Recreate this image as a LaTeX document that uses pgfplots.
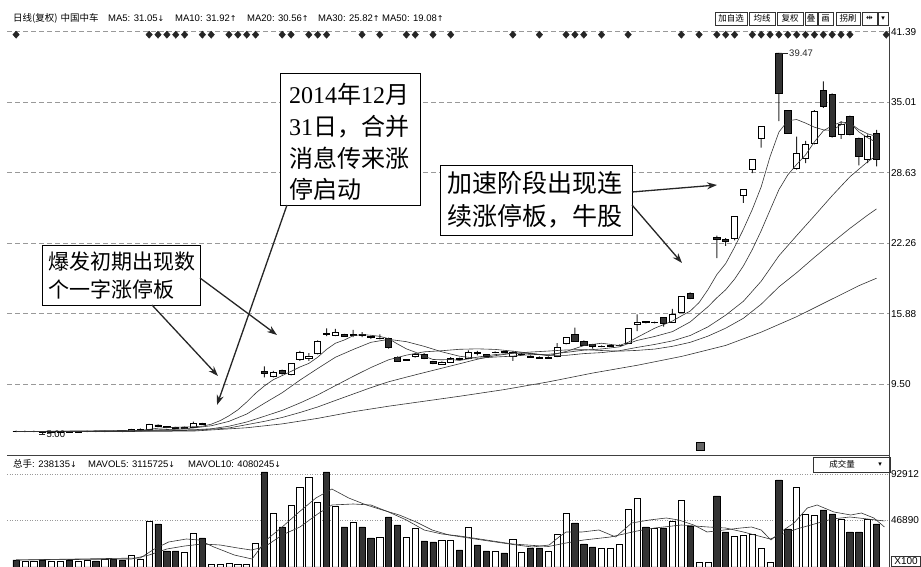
\documentclass[border=0pt]{standalone}
\usepackage{pgfplots}
\pgfplotsset{compat=1.18}
\usepackage{pgfplotstable}
\usepackage{fontspec}
\setmainfont{Liberation Serif}
\newfontfamily\cjk{Noto Sans CJK SC}
\newfontfamily\sans{Liberation Sans}
\newfontfamily\dejavu{DejaVu Sans}
\usetikzlibrary{arrows.meta}

\pgfplotstableread{
i O H L C V
0 5.25 5.30 5.15 5.20 7
1 5.18 5.28 5.15 5.24 6
2 5.20 5.30 5.15 5.25 6
3 5.22 5.25 5.00 5.10 7
4 5.10 5.20 5.05 5.18 6
5 5.15 5.25 5.10 5.22 6
6 5.22 5.25 5.12 5.15 7
7 5.15 5.25 5.12 5.22 6
8 5.20 5.28 5.15 5.25 7
9 5.25 5.28 5.15 5.18 6
10 5.18 5.30 5.15 5.25 8
11 5.25 5.30 5.18 5.20 8
12 5.22 5.25 5.15 5.18 7
13 5.20 5.45 5.18 5.40 12
14 5.38 5.50 5.32 5.45 8
15 5.45 5.90 5.42 5.85 46
16 5.80 5.85 5.60 5.65 43
17 5.65 5.70 5.52 5.55 16
18 5.58 5.62 5.45 5.50 16
19 5.50 5.65 5.48 5.60 15
20 5.60 6.10 5.55 5.92 34
21 5.95 6.00 5.80 5.87 29
22 6.46 6.46 6.46 6.46 3
23 7.10 7.10 7.10 7.10 3
24 7.81 7.81 7.81 7.81 4
25 8.59 8.59 8.59 8.59 3
26 9.45 9.45 9.45 9.45 3
27 10.40 10.40 10.40 10.40 24
28 10.65 11.10 10.10 10.45 95
29 10.20 10.70 10.10 10.60 54
30 10.75 10.80 10.35 10.45 40
31 10.35 11.40 10.30 11.35 62
32 11.70 12.50 11.60 12.40 80
33 11.85 12.30 11.60 12.05 90
34 12.25 13.45 12.20 13.40 65
35 14.10 14.55 13.85 14.00 95
36 13.95 14.50 13.85 14.15 61
37 14.00 14.05 13.80 13.85 40
38 13.95 14.40 13.75 14.00 45
39 14.00 14.20 13.75 13.90 40
40 13.80 13.85 13.60 13.70 29
41 13.60 14.00 13.55 13.65 30
42 13.60 13.70 12.70 12.80 50
43 11.90 12.00 11.50 11.60 42
44 11.65 11.75 11.60 11.70 30
45 12.00 12.30 11.90 12.20 39
46 12.20 12.30 11.75 11.80 26
47 11.55 11.60 11.30 11.35 25
48 11.30 11.55 11.25 11.45 27
49 11.50 11.95 11.45 11.85 27
50 11.85 11.90 11.70 11.75 17
51 11.80 12.55 11.75 12.40 40
52 12.35 12.50 12.10 12.25 22
53 12.15 12.20 12.00 12.05 16
54 12.35 12.45 12.30 12.40 16
55 12.45 12.50 12.35 12.40 14
56 12.00 12.50 11.60 12.40 28
57 12.15 12.30 12.10 12.20 15
58 12.05 12.10 11.90 11.95 19
59 11.95 12.00 11.80 11.85 19
60 11.85 12.00 11.80 11.95 16
61 12.00 13.20 11.95 12.80 33
62 13.20 13.75 13.10 13.70 54
63 14.00 14.60 13.35 13.40 44
64 13.40 13.45 13.00 13.05 23
65 13.10 13.15 12.70 12.90 20
66 12.90 13.00 12.85 12.95 19
67 12.95 13.05 12.90 13.00 19
68 13.00 13.10 12.95 13.05 23
69 13.20 14.55 13.15 14.50 58
70 14.90 15.80 14.30 15.10 69
71 15.15 15.20 15.00 15.05 40
72 15.05 15.15 15.00 15.10 39
73 15.50 15.55 14.70 15.00 39
74 15.10 16.30 15.05 15.80 46
75 16.00 17.45 15.95 17.40 67
76 17.70 17.80 17.20 17.25 41
77 18.95 18.95 18.95 18.95 5
78 20.85 20.85 20.85 20.85 5
79 22.80 22.93 20.90 22.60 71
80 22.60 22.70 22.00 22.40 35
81 22.65 24.65 22.50 24.65 31
82 26.60 27.10 25.90 27.10 32
83 28.90 29.80 28.60 29.80 33
84 31.70 32.80 30.90 32.80 19
85 36.05 36.05 36.05 36.05 5
86 39.47 39.47 33.30 35.80 87
87 34.30 34.30 32.20 32.20 38
88 29.00 31.90 28.90 30.35 80
89 29.90 31.50 29.50 31.20 53
90 31.25 34.30 31.20 34.20 52
91 36.10 36.90 34.50 34.60 57
92 35.70 35.80 31.80 31.90 53
93 32.07 33.30 31.70 32.97 48
94 33.70 33.80 32.00 32.07 35
95 31.70 31.80 29.30 30.10 35
96 29.80 32.10 29.50 31.90 48
97 32.20 32.50 29.20 29.80 43
}\kdata

\newcommand\tfont{\sans\fontsize{10}{10}\selectfont}
\newcommand\hfont{\sans\fontsize{9.5}{10}\selectfont}
\newcommand\up{{\dejavu\fontsize{8}{10}\selectfont ↑}}
\newcommand\dn{{\dejavu\fontsize{8}{10}\selectfont ↓}}

\begin{document}
\begin{tikzpicture}[x=1pt,y=1pt]
\path[use as bounding box] (0,0) rectangle (921,567);
\pgfplotsset{
  panel/.style={scale only axis, width=881.7pt, xmin=-1, xmax=98.4, anchor=south west},
  price/.style={panel, height=429pt, ymin=3.02, ymax=41.84, at={(8.13,100.7)}},
  maline/.style={black!80, line width=0.6pt, mark=none},
}
% grid, axis lines, wicks
\begin{axis}[price, ybar stacked, bar width=1pt,
  axis x line*=bottom, axis y line*=right, xtick=\empty,
  ytick={9.50,15.88,22.26,28.63,35.01,41.39},
  yticklabels={9.50,15.88,22.26,28.63,35.01,41.39},
  yticklabel style={font=\tfont, inner sep=1pt, xshift=1pt},
  major tick length=0pt,
  ymajorgrids, grid style={black!40, dash pattern=on 5pt off 3pt, line width=0.5pt},
  axis line style={black!75, line width=0.7pt}]
\addplot[draw=none, fill=none] table[x=i, y=L] {\kdata};
\addplot[draw=none, fill=black!85] table[x=i, y expr={\thisrow{H}-\thisrow{L}}] {\kdata};
\end{axis}
% bodies
\begin{axis}[price, hide axis, ybar stacked, bar width=6.2pt]
\addplot[draw=none, fill=none] table[x=i, y expr={min(\thisrow{O},\thisrow{C})}] {\kdata};
\addplot[draw=black, fill=white, line width=0.7pt] table[x=i, y expr={max(\thisrow{C}-\thisrow{O},0)}] {\kdata};
\addplot[draw=black, fill=black!80, line width=0.7pt] table[x=i, y expr={max(\thisrow{O}-\thisrow{C},0)}] {\kdata};
\end{axis}
% moving averages, markers, labels
\begin{axis}[price, hide axis]
\addplot[maline] coordinates {(0,5.2) (4,5.19) (8,5.2) (12,5.21) (14,5.3) (16,5.51) (18,5.6) (20,5.64) (21,5.69) (22,5.87) (23,6.19) (24,6.63) (25,7.17) (26,7.88) (27,8.67) (28,9.34) (29,9.9) (30,10.27) (31,10.65) (32,11.05) (33,11.37) (34,11.93) (35,12.64) (36,13.2) (37,13.49) (38,13.88) (39,13.98) (40,13.92) (41,13.82) (42,13.61) (43,13.13) (44,12.69) (45,12.39) (46,12.02) (47,11.73) (48,11.7) (49,11.73) (50,11.64) (52,11.94) (54,12.17) (56,12.3) (58,12.27) (60,12.07) (62,12.45) (64,12.98) (66,13.2) (68,12.99) (69,13.28) (70,13.72) (72,14.56) (74,15.21) (75,15.67) (76,16.11) (77,16.88) (78,18.05) (79,19.41) (80,20.41) (81,21.89) (82,23.52) (83,25.31) (84,27.35) (85,30.08) (86,32.31) (87,33.33) (88,33.44) (89,33.12) (90,32.75) (91,32.51) (92,32.45) (93,32.97) (94,33.15) (95,32.33) (96,31.79) (97,31.37)};
\addplot[maline] coordinates {(0,5.2) (10,5.2) (14,5.25) (16,5.36) (18,5.42) (20,5.53) (22,5.73) (24,6.13) (26,6.79) (28,7.77) (30,8.72) (32,9.86) (34,10.91) (36,11.93) (38,12.63) (40,13.28) (42,13.55) (44,13.34) (46,12.92) (48,12.42) (50,12.02) (52,11.84) (54,11.95) (56,12.03) (58,12.17) (60,12.19) (62,12.37) (64,12.57) (66,12.68) (68,12.87) (70,13.45) (72,13.81) (74,14.25) (76,15.13) (78,16.5) (79,17.31) (80,18.04) (81,19.0) (82,20.2) (83,21.68) (84,23.38) (85,25.25) (86,27.1) (87,28.43) (88,29.38) (89,30.24) (90,31.42) (91,32.41) (92,32.89) (93,33.21) (94,33.13) (95,32.54) (96,32.15) (97,31.91)};
\addplot[maline] coordinates {(0,5.2) (20,5.37) (22,5.46) (24,5.69) (26,6.07) (28,6.59) (30,7.12) (32,7.79) (34,8.52) (36,9.36) (38,10.2) (40,11.0) (42,11.7) (44,12.12) (46,12.42) (48,12.52) (50,12.65) (52,12.69) (54,12.64) (56,12.48) (58,12.29) (60,12.1) (62,12.1) (64,12.26) (66,12.35) (68,12.52) (70,12.82) (72,13.09) (74,13.41) (76,13.9) (78,14.68) (80,15.74) (82,17.0) (84,18.81) (86,21.11) (88,22.94) (90,24.73) (92,26.55) (94,28.26) (96,29.62) (97,30.17)};
\addplot[maline] coordinates {(0,5.2) (20,5.31) (24,5.53) (28,6.13) (30,6.48) (32,6.93) (34,7.43) (36,8.02) (38,8.6) (40,9.18) (42,9.71) (44,10.13) (46,10.54) (48,10.94) (50,11.34) (52,11.75) (54,12.07) (56,12.29) (58,12.4) (60,12.49) (62,12.59) (64,12.62) (66,12.54) (68,12.48) (70,12.55) (72,12.67) (74,12.92) (76,13.28) (78,13.84) (80,14.56) (82,15.46) (84,16.73) (86,18.3) (88,19.58) (90,20.97) (92,22.3) (94,23.59) (96,24.79) (97,25.35)};
\addplot[maline] coordinates {(0,5.2) (10,5.2) (20,5.25) (26,5.55) (30,5.9) (34,6.4) (38,7.0) (42,7.5) (46,7.95) (50,8.4) (55,9.0) (60,9.7) (65,10.5) (70,11.2) (75,12.0) (80,13.0) (84,14.2) (88,15.6) (92,17.2) (95,18.4) (97,19.08)};
\addplot[only marks, mark=diamond*, mark size=3.6pt, mark options={xscale=1.2, fill=black!85, draw=black!85}] coordinates {(0,41.12) (15,41.12) (16,41.12) (17,41.12) (18,41.12) (19,41.12) (21,41.12) (22,41.12) (24,41.12) (25,41.12) (26,41.12) (27,41.12) (30,41.12) (31,41.12) (33,41.12) (34,41.12) (35,41.12) (39,41.12) (41,41.12) (44,41.12) (45,41.12) (47,41.12) (49,41.12) (56,41.12) (59,41.12) (62,41.12) (63,41.12) (64,41.12) (66,41.12) (69,41.12) (75,41.12) (77,41.12) (79,41.12) (80,41.12) (81,41.12) (83,41.12) (84,41.12) (85,41.12) (86,41.12) (87,41.12) (88,41.12) (89,41.12) (90,41.12) (91,41.12) (92,41.12) (93,41.12) (94,41.12) (98.1,41.12)};
\draw[black!85, line width=0.6pt] (axis cs:86,39.47) -- ++(9pt,0pt) node[anchor=west, inner sep=1pt, font=\hfont] {39.47};
\draw[black!85, line width=0.6pt] (axis cs:3.3,5.0) -- ++(-6pt,0pt);
\node[anchor=west, inner sep=1pt, font=\hfont] at (axis cs:3.3,5.0) {5.00};
\end{axis}
% volume panel
\begin{axis}[panel, height=113pt, ymin=0, ymax=113, at={(8.13,0)},
  ybar, bar width=6.2pt, bar shift=0pt,
  axis x line=none, axis y line*=right, xtick=\empty,
  ytick={46.89,92.912}, yticklabels={46890,92912},
  yticklabel style={font=\tfont, inner sep=1pt, xshift=1pt},
  major tick length=0pt,
  ymajorgrids, grid style={black!40, dash pattern=on 1pt off 1.5pt, line width=0.5pt},
  axis line style={black!75, line width=0.7pt}]
\addplot[draw=black, fill=white, line width=0.7pt] table[x=i, y expr={(1-(\thisrow{O}>\thisrow{C}))*\thisrow{V}}] {\kdata};
\addplot[draw=black, fill=black!80, line width=0.7pt] table[x=i, y expr={(\thisrow{O}>\thisrow{C})*\thisrow{V}}] {\kdata};
\addplot[sharp plot, maline] coordinates {(0,7) (14,9) (15.6,18) (17.2,25) (19.2,28) (20.6,27) (22.3,20) (24.6,12) (26.6,8) (28.2,27) (30,40) (31.9,55) (33.8,69) (35.6,78) (37.5,69) (39.5,62) (41.3,57) (43.2,52) (45.1,45) (46.9,37) (48.8,32) (52.5,27) (56.4,22) (58.2,20) (60.1,22) (61.2,30) (62,35) (63.8,35) (65.7,37) (67.6,30) (69.4,44) (71.4,47) (73.3,49) (74.7,47) (76.4,42) (77.9,35) (79.8,37) (81.7,39) (82.9,40) (84,37) (85.1,27) (86.2,35) (87.7,44) (89.2,59) (90.3,62) (92.2,55) (94.1,52) (95.3,54) (96.7,49) (97.9,40)};
\addplot[sharp plot, maline] coordinates {(0,7) (13,8) (15,12) (17,18) (19,21) (21,23) (23,22) (25,19) (26.5,17) (28,20) (30,32) (32,40) (34,53) (35.6,62) (38,63) (40,62) (42,55) (44,47) (46,37) (48,33) (50,31) (53,27) (56,23) (60,20.5) (62,24) (64,27) (67,30) (70,36) (72,39) (75,42) (78,40) (80,39) (82,35) (85,28) (86.5,33) (88,38) (90,43) (92,48) (94,50) (96,48) (97.9,46)};
\end{axis}
% header texts
\node[anchor=base west, inner sep=0] at (13,545) {\cjk\fontsize{9.5}{10}\selectfont 日线(复权)\hspace{3pt}中国中车};
\node[anchor=base west, inner sep=0] at (108,545) {\hfont MA5: 31.05\dn};
\node[anchor=base west, inner sep=0] at (175,545) {\hfont MA10: 31.92\up};
\node[anchor=base west, inner sep=0] at (247,545) {\hfont MA20: 30.56\up};
\node[anchor=base west, inner sep=0] at (318,545) {\hfont MA30: 25.82\up};
\node[anchor=base west, inner sep=0] at (382,545) {\hfont MA50: 19.08\up};
\node[anchor=base west, inner sep=0] at (13,99) {{\cjk\fontsize{9.5}{10}\selectfont 总手}\hfont: 238135\dn};
\node[anchor=base west, inner sep=0] at (88,99) {\hfont MAVOL5: 3115725\dn};
\node[anchor=base west, inner sep=0] at (188,99) {\hfont MAVOL10: 4080245\dn};
% toolbar
\begin{scope}[line width=0.6pt, black!80]
\foreach \a/\b/\t in {715/747/加自选, 749/775/均线, 777/803/复权, 805/817/叠, 818/833/画, 836/860/拐刷}{
  \draw (\a,555) rectangle (\b,542);
  \node[font=\cjk\fontsize{8.5}{9}\selectfont, inner sep=0, text=black] at ({(\a+\b)/2},548.5) {\t};
}
\draw (862,555) rectangle (877,542); \node[font=\dejavu\fontsize{8}{9}\selectfont, inner sep=0, text=black] at (869.5,548.5) {⇹};
\draw (878,555) rectangle (888,542); \node[font=\dejavu\fontsize{7}{9}\selectfont, inner sep=0, text=black] at (883,548.5) {▾};
\draw (813,110) rectangle (890,95);
\node[font=\cjk\fontsize{8.5}{9}\selectfont, inner sep=0, text=black] at (842,102.5) {成交量};
\node[font=\dejavu\fontsize{7}{9}\selectfont, inner sep=0, text=black] at (880,102.5) {▾};
\draw (891,0.5) rectangle (920.5,11);
\node[font=\tfont, inner sep=0, text=black] at (906,5.5) {X100};
\filldraw[fill=black!60, draw=black] (696,117) rectangle (704,125);
\end{scope}
% annotation boxes
\begin{scope}[line width=0.9pt]
\draw[fill=white] (280,494) rectangle (420,362);
\draw[fill=white] (42,322) rectangle (200,262);
\draw[fill=white] (440,402) rectangle (632,332);
\end{scope}
\newcommand\ann{\fontsize{24}{28}\selectfont}
\node[anchor=base west, inner sep=0] at (289,463) {\ann 2014{\cjk 年}12{\cjk 月}};
\node[anchor=base west, inner sep=0] at (289,431) {\ann 31{\cjk 日，合并}};
\node[anchor=base west, inner sep=0] at (289,399) {\ann\cjk 消息传来涨};
\node[anchor=base west, inner sep=0] at (289,368) {\ann\cjk 停启动};
\node[anchor=base west, inner sep=0] at (48,297) {\cjk\fontsize{21}{24}\selectfont 爆发初期出现数};
\node[anchor=base west, inner sep=0] at (48,269) {\cjk\fontsize{21}{24}\selectfont 个一字涨停板};
\node[anchor=base west, inner sep=0] at (447,374) {\cjk\fontsize{25}{28}\selectfont 加速阶段出现连};
\node[anchor=base west, inner sep=0] at (447,341) {\cjk\fontsize{25}{28}\selectfont 续涨停板，牛股};
% arrows
\begin{scope}[line width=1.3pt, black!85, -{Stealth[length=10pt,width=7pt]}]
\draw (287,362) -- (217,162);
\draw (152,262) -- (218,191);
\draw (200,289) -- (277,232);
\draw (632,375) -- (717,382);
\draw (632,362) -- (682,304);
\end{scope}
\end{tikzpicture}
\end{document}
